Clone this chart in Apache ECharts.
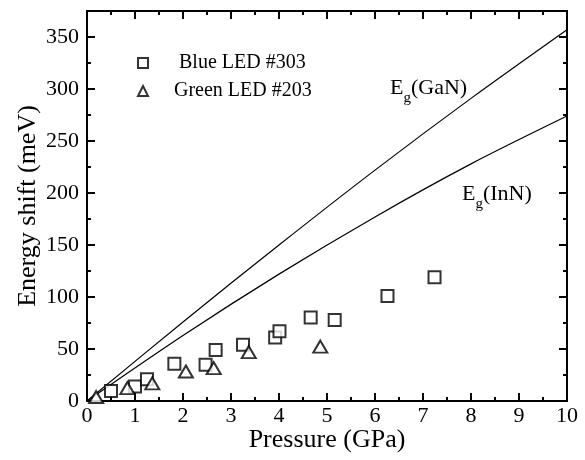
<!DOCTYPE html>
<html>
<head>
<meta charset="utf-8">
<title>Energy shift vs pressure</title>
<script src="https://cdn.jsdelivr.net/npm/echarts@6/dist/echarts.min.js"></script>
<style>
html, body { margin: 0; padding: 0; background: #fff; }
#chart { width: 585px; height: 460px; }
</style>
</head>
<body>
<div id="chart"></div>
<script>
// 数据
var blueName = 'Blue LED #303';
var greenName = 'Green LED #203';
var bluePressure = [0.50, 1.00, 1.25, 1.82, 2.47, 2.68, 3.25, 3.92, 4.01, 4.66, 5.16, 6.26, 7.24];
var blueShift = [9.6, 14, 21, 35.7, 34.8, 49, 54, 61, 67, 80.4, 77.9, 101, 119];
var greenPressure = [0.19, 0.84, 1.36, 2.06, 2.64, 3.37, 4.86];
var greenShift = [3.8, 12.4, 17, 28.4, 31.6, 47, 52.3];
// 能隙曲线
var curvePressure = [0, 2, 4, 6, 8, 10];
var ganShift = [0, 76, 150, 222, 291, 357];
var innShift = [0, 63, 122, 177, 228, 274];

var FONT = 'Liberation Serif';

function pairs (xs, ys) {
	var out = [];
	for (var i = 0; i < xs.length; i++) {
		out.push([xs[i], ys[i]]);
	}
	return out;
}

// 坐标轴 (四边都有刻度)
function makeX (pos, showLabel) {
	return {
		type: 'value',
		position: pos,
		min: 0,
		max: 10,
		interval: 1,
		axisLine: { show: true, onZero: false, lineStyle: { color: '#000', width: 2 } },
		axisTick: { show: true, inside: true, length: 8, lineStyle: { color: '#000', width: 2 } },
		minorTick: { show: true, splitNumber: 2, length: 4, lineStyle: { color: '#000', width: 2 } },
		splitLine: { show: false },
		axisLabel: { show: showLabel, fontFamily: FONT, fontSize: 22, color: '#000', margin: 4 },
		name: showLabel ? 'Pressure (GPa)' : '',
		nameLocation: 'middle',
		nameGap: 26,
		nameMoveOverlap: false,
		nameTextStyle: { fontFamily: FONT, fontSize: 26, color: '#000' }
	};
}

function makeY (pos, interval, tickLen, showLabel) {
	return {
		type: 'value',
		position: pos,
		min: 0,
		max: 375,
		interval: interval,
		axisLine: { show: true, onZero: false, lineStyle: { color: '#000', width: 2 } },
		axisTick: { show: true, inside: true, length: tickLen, lineStyle: { color: '#000', width: 2 } },
		splitLine: { show: false },
		axisLabel: { show: showLabel, showMaxLabel: false, fontFamily: FONT, fontSize: 22, color: '#000', margin: 8 },
		name: showLabel ? 'Energy shift (meV)' : '',
		nameLocation: 'middle',
		nameGap: 46,
		nameMoveOverlap: false,
		nameTextStyle: { fontFamily: FONT, fontSize: 26, color: '#000' }
	};
}

var hollow = { color: '#fff', borderColor: '#000', borderWidth: 2 };

var option = {
	backgroundColor: '#fff',
	animation: false,
	grid: { left: 87, right: 18, top: 11, bottom: 59, containLabel: false, outerBoundsMode: 'none' },
	legend: {
		orient: 'vertical',
		left: 132,
		top: 47,
		itemWidth: 10,
		itemHeight: 10,
		itemGap: 6,
		textStyle: { fontFamily: FONT, fontSize: 20, color: '#000', lineHeight: 22 },
		data: [
			{ name: blueName, icon: 'rect', textStyle: { padding: [0, 0, 0, 26] } },
			{ name: greenName, icon: 'triangle', textStyle: { padding: [0, 0, 0, 21] } }
		]
	},
	xAxis: [makeX('bottom', true), makeX('top', false)],
	yAxis: [
		makeY('left', 50, 8, true),
		makeY('left', 25, 4, false),
		makeY('right', 50, 8, false),
		makeY('right', 25, 4, false)
	],
	// E_g 标注
	graphic: [
		{
			type: 'text', left: 390, top: 77, silent: true,
			style: {
				text: '{e|E}{s|g}{e|(GaN)}',
				rich: {
					e: { fontFamily: FONT, fontSize: 22, fill: '#000', verticalAlign: 'top', lineHeight: 24 },
					s: { fontFamily: FONT, fontSize: 15, fill: '#000', verticalAlign: 'top', lineHeight: 16, padding: [14, 0, 0, 0] }
				}
			}
		},
		{
			type: 'text', left: 462, top: 183, silent: true,
			style: {
				text: '{e|E}{s|g}{e|(InN)}',
				rich: {
					e: { fontFamily: FONT, fontSize: 22, fill: '#000', verticalAlign: 'top', lineHeight: 24 },
					s: { fontFamily: FONT, fontSize: 15, fill: '#000', verticalAlign: 'top', lineHeight: 16, padding: [14, 0, 0, 0] }
				}
			}
		}
	],
	series: [
		{
			name: 'Eg(GaN)',
			type: 'line',
			data: pairs(curvePressure, ganShift),
			smooth: 0.3,
			showSymbol: false,
			lineStyle: { color: '#000', width: 1.2 },
			z: 1
		},
		{
			name: 'Eg(InN)',
			type: 'line',
			data: pairs(curvePressure, innShift),
			smooth: 0.3,
			showSymbol: false,
			lineStyle: { color: '#000', width: 1.2 },
			z: 1
		},
		{
			name: blueName,
			type: 'scatter',
			symbol: 'rect',
			symbolSize: 12,
			data: pairs(bluePressure, blueShift),
			itemStyle: hollow,
			z: 3
		},
		{
			name: greenName,
			type: 'scatter',
			symbol: 'triangle',
			symbolSize: [14, 12],
			data: pairs(greenPressure, greenShift),
			itemStyle: hollow,
			z: 3
		}
	]
};

var chart = echarts.init(document.getElementById('chart'), null, { renderer: 'canvas' });
chart.setOption(option);
window.addEventListener('resize', function () {
	chart.resize();
});
</script>
</body>
</html>
